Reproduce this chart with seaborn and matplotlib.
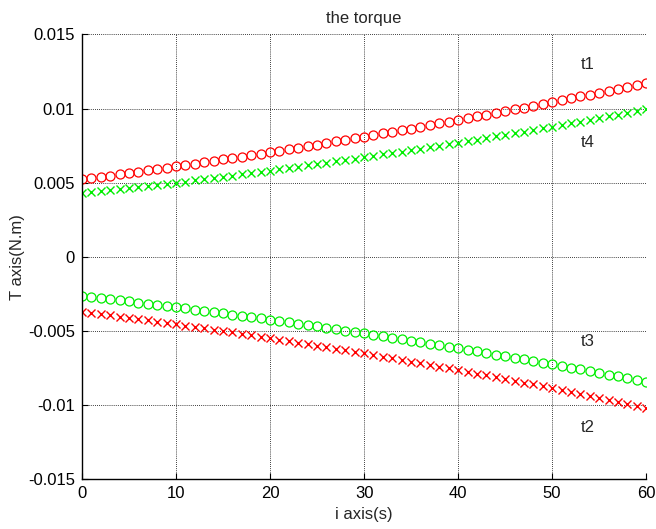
import matplotlib
matplotlib.use("Agg")
import matplotlib.pyplot as plt
import seaborn as sns
import pandas as pd

x_vals = list(range(61))

t1 = [5.220, 5.304, 5.389, 5.474, 5.561, 5.648, 5.736, 5.825, 5.915, 6.005,
      6.097, 6.189, 6.282, 6.376, 6.471, 6.566, 6.663, 6.760, 6.858, 6.957,
      7.057, 7.157, 7.259, 7.361, 7.464, 7.568, 7.673, 7.779, 7.885, 7.992,
      8.100, 8.209, 8.319, 8.430, 8.541, 8.653, 8.766, 8.880, 8.995, 9.111,
      9.227, 9.345, 9.463, 9.582, 9.701, 9.822, 9.943, 10.066, 10.189, 10.313,
      10.438, 10.563, 10.690, 10.817, 10.945, 11.074, 11.204, 11.334, 11.466, 11.598,
      11.731]
t4 = [4.280, 4.348, 4.417, 4.487, 4.558, 4.630, 4.702, 4.776, 4.850, 4.925,
      5.001, 5.078, 5.156, 5.235, 5.315, 5.395, 5.477, 5.559, 5.643, 5.727,
      5.812, 5.898, 5.984, 6.072, 6.161, 6.250, 6.340, 6.432, 6.524, 6.617,
      6.711, 6.805, 6.901, 6.998, 7.095, 7.193, 7.293, 7.393, 7.494, 7.596,
      7.698, 7.802, 7.907, 8.012, 8.118, 8.226, 8.334, 8.443, 8.553, 8.663,
      8.775, 8.888, 9.001, 9.115, 9.231, 9.347, 9.464, 9.582, 9.700, 9.820,
      9.940]
t3 = [-2.640, -2.712, -2.785, -2.859, -2.933, -3.009, -3.085, -3.162, -3.240, -3.319,
      -3.398, -3.478, -3.560, -3.642, -3.724, -3.808, -3.892, -3.978, -4.064, -4.151,
      -4.238, -4.327, -4.416, -4.507, -4.598, -4.689, -4.782, -4.876, -4.970, -5.065,
      -5.161, -5.258, -5.355, -5.454, -5.553, -5.653, -5.754, -5.856, -5.958, -6.061,
      -6.166, -6.271, -6.376, -6.483, -6.591, -6.699, -6.808, -6.918, -7.029, -7.140,
      -7.253, -7.366, -7.480, -7.595, -7.710, -7.827, -7.944, -8.062, -8.181, -8.301,
      -8.422]
t2 = [-3.700, -3.780, -3.861, -3.943, -4.026, -4.109, -4.194, -4.280, -4.366, -4.454,
      -4.542, -4.632, -4.722, -4.813, -4.906, -4.999, -5.093, -5.188, -5.284, -5.381,
      -5.479, -5.578, -5.677, -5.778, -5.880, -5.983, -6.086, -6.191, -6.296, -6.403,
      -6.510, -6.618, -6.727, -6.838, -6.949, -7.061, -7.174, -7.288, -7.403, -7.518,
      -7.635, -7.753, -7.872, -7.991, -8.112, -8.233, -8.356, -8.479, -8.604, -8.729,
      -8.855, -8.982, -9.110, -9.239, -9.369, -9.500, -9.632, -9.765, -9.899, -10.034,
      -10.169]

yticks = [-0.015, -0.01, -0.005, 0, 0.005, 0.01, 0.015]
ytick_labels = ["-0.015", "-0.01", "-0.005", "0", "0.005", "0.01", "0.015"]
xticks = [0, 10, 20, 30, 40, 50, 60]

labels = ["t1", "t2", "t3", "t4"]
label_x = [53.8, 53.8, 53.8, 53.8]
label_y = [0.0130, -0.0115, -0.0057, 0.0077]

sns.set_style("white")
plt.rcParams["font.family"] = ["Liberation Sans", "DejaVu Sans"]

fig = plt.figure(figsize=(6.56, 5.29), dpi=100)
ax = fig.add_axes([0.125, 0.094, 0.860, 0.841])

series = [
    (t1, "o", "#ff0000"),
    (t4, "x", "#00ee00"),
    (t3, "o", "#00ee00"),
    (t2, "x", "#ff0000"),
]
for vals, mk, col in series:
    df = pd.DataFrame({"x": x_vals, "y": [v * 1e-3 for v in vals]})
    if mk == "o":
        sns.lineplot(data=df, x="x", y="y", ax=ax, linestyle="none", marker="o",
                     markersize=6.5, markerfacecolor="none", markeredgecolor=col,
                     markeredgewidth=0.9, color=col)
    else:
        sns.lineplot(data=df, x="x", y="y", ax=ax, linestyle="none", marker="x",
                     markersize=6, markeredgecolor=col, markeredgewidth=1.0, color=col)

ax.set_xlim(0, 60)
ax.set_ylim(-0.015, 0.015)
ax.set_xticks(xticks)
ax.set_xticklabels([str(v) for v in xticks])
ax.set_yticks(yticks)
ax.set_yticklabels(ytick_labels)
ax.grid(True, color="black", linestyle=(0, (1, 1.5)), linewidth=0.6)
ax.set_axisbelow(True)
for s in ["top", "right"]:
    ax.spines[s].set_visible(False)
for s in ["left", "bottom"]:
    ax.spines[s].set_color("black")
    ax.spines[s].set_linewidth(1.0)
ax.tick_params(direction="in", length=4, width=0.8, labelsize=12, colors="black",
               left=True, bottom=True, pad=5)

ax.set_title("the torque", fontsize=12, pad=8)
ax.set_xlabel("i axis(s)", fontsize=12, labelpad=4)
ax.set_ylabel("T axis(N.m)", fontsize=12, labelpad=2)

for lab, lx, ly in zip(labels, label_x, label_y):
    ax.text(lx, ly, lab, ha="center", va="center", fontsize=12)

fig.savefig("out.png", dpi=100)
